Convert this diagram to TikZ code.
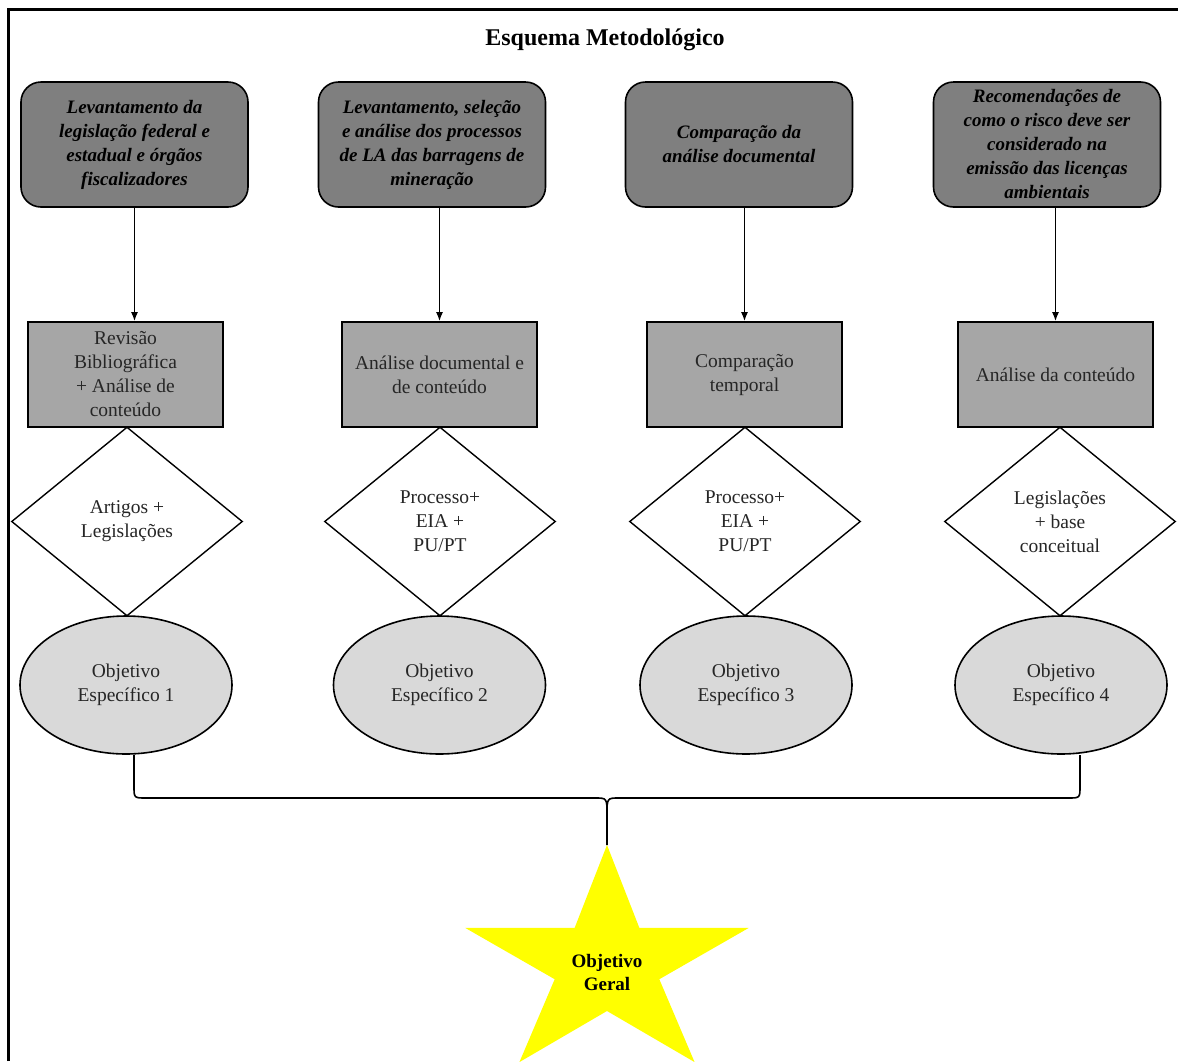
\documentclass[tikz,border=0pt]{standalone}
\usepackage{fontspec}
\setmainfont{Liberation Serif}
\usepackage{tikz}
\usetikzlibrary{shapes.geometric,arrows.meta,positioning}

\definecolor{escuro}{RGB}{127,127,127}
\definecolor{medio}{RGB}{166,166,166}
\definecolor{claro}{RGB}{217,217,217}
\definecolor{amarelo}{RGB}{255,255,0}

\tikzset{
  texto/.style={font=\fontsize{19.5}{24}\selectfont, text=black!85, align=center},
  tarefa/.style={draw, line width=1.6pt, fill=escuro, rounded corners=20pt,
    minimum width=227pt, minimum height=125pt, align=center, text=black,
    font=\bfseries\itshape\fontsize{19}{24}\selectfont},
  metodo/.style={texto, draw, line width=1.6pt, fill=medio,
    minimum width=195pt, minimum height=105pt},
  dado/.style={texto, diamond, draw, line width=1.4pt, fill=white, inner sep=0pt,
    minimum width=231pt, minimum height=189pt},
  objetivo/.style={texto, ellipse, draw, line width=1.6pt, fill=claro,
    minimum width=212pt, minimum height=138pt},
  seta/.style={-{Latex[length=9pt,width=7pt]}, line width=1.6pt},
  chave/.style={line width=1.6pt},
}

\begin{document}
\begin{tikzpicture}[x=1pt, y=-1pt]

            \useasboundingbox (0,0) rectangle (1178,1061);
            \draw[line width=3pt] (8,1061) -- (8,9) -- (1178,9);

            % Nodes

            \node[font=\bfseries\fontsize{24}{28}\selectfont] (titulo) at (605,40) {Esquema Metodológico};

            \node[tarefa] (t1) at (134.5,144.5) {Levantamento da\\legislação federal e\\estadual e órgãos\\fiscalizadores};
            \node[tarefa] (t2) at (432,144.5) {Levantamento, seleção\\e análise dos processos\\de LA das barragens de\\mineração};
            \node[tarefa] (t3) at (739,144.5) {Comparação da\\análise documental};
            \node[tarefa] (t4) at (1047,144.5) {Recomendações de\\como o risco deve ser\\considerado na\\emissão das licenças\\ambientais};

            \node[metodo] (m1) at (125.5,374.5) {Revisão\\Bibliográfica\\+ Análise de\\conteúdo};
            \node[metodo] (m2) at (439.5,374.5) {Análise documental e\\de conteúdo};
            \node[metodo] (m3) at (744.5,374.5) {Comparação\\temporal};
            \node[metodo] (m4) at (1055.5,374.5) {Análise da conteúdo};

            \node[dado] (d1) at (127,521.5) {Artigos +\\Legislações};
            \node[dado] (d2) at (440,521.5) {Processo+\\EIA +\\PU/PT};
            \node[dado] (d3) at (745,521.5) {Processo+\\EIA +\\PU/PT};
            \node[dado] (d4) at (1060,521.5) {Legislações\\+ base\\conceitual};

            \node[objetivo] (o1) at (126,685) {Objetivo\\Específico 1};
            \node[objetivo] (o2) at (439.5,685) {Objetivo\\Específico 2};
            \node[objetivo] (o3) at (746,685) {Objetivo\\Específico 3};
            \node[objetivo] (o4) at (1061,685) {Objetivo\\Específico 4};

            % Star

            \begin{scope}[shift={(607,965)}]
              \fill[amarelo] (-90:149 and 120) -- (-54:55 and 46) -- (-18:149 and 120)
                -- (18:55 and 46) -- (54:149 and 120) -- (90:55 and 46)
                -- (126:149 and 120) -- (162:55 and 46) -- (198:149 and 120)
                -- (234:55 and 46) -- cycle;
            \end{scope}
            \node[font=\bfseries\fontsize{19}{23}\selectfont, align=center] (og) at (607,972) {Objetivo\\Geral};
            \coordinate (sg) at (607,845);

            % Edges

            \draw[seta] (t1.south) -- (t1.south |- m1.north);
            \draw[seta] (m2.north |- t2.south) -- (m2.north);
            \draw[seta] (m3.north |- t3.south) -- (m3.north);
            \draw[seta] (m4.north |- t4.south) -- (m4.north);

            % Brace

            \coordinate (b1) at (134,755);
            \coordinate (b4) at (1080,755);
            \draw[chave] (b1) -- (134,786) .. controls (134,798) .. (146,798) -- (595,798)
              .. controls (607,798) .. (607,815) -- (sg);
            \draw[chave] (607,815) .. controls (607,798) .. (619,798) -- (1068,798)
              .. controls (1080,798) .. (1080,786) -- (b4);

\end{tikzpicture}
\end{document}
